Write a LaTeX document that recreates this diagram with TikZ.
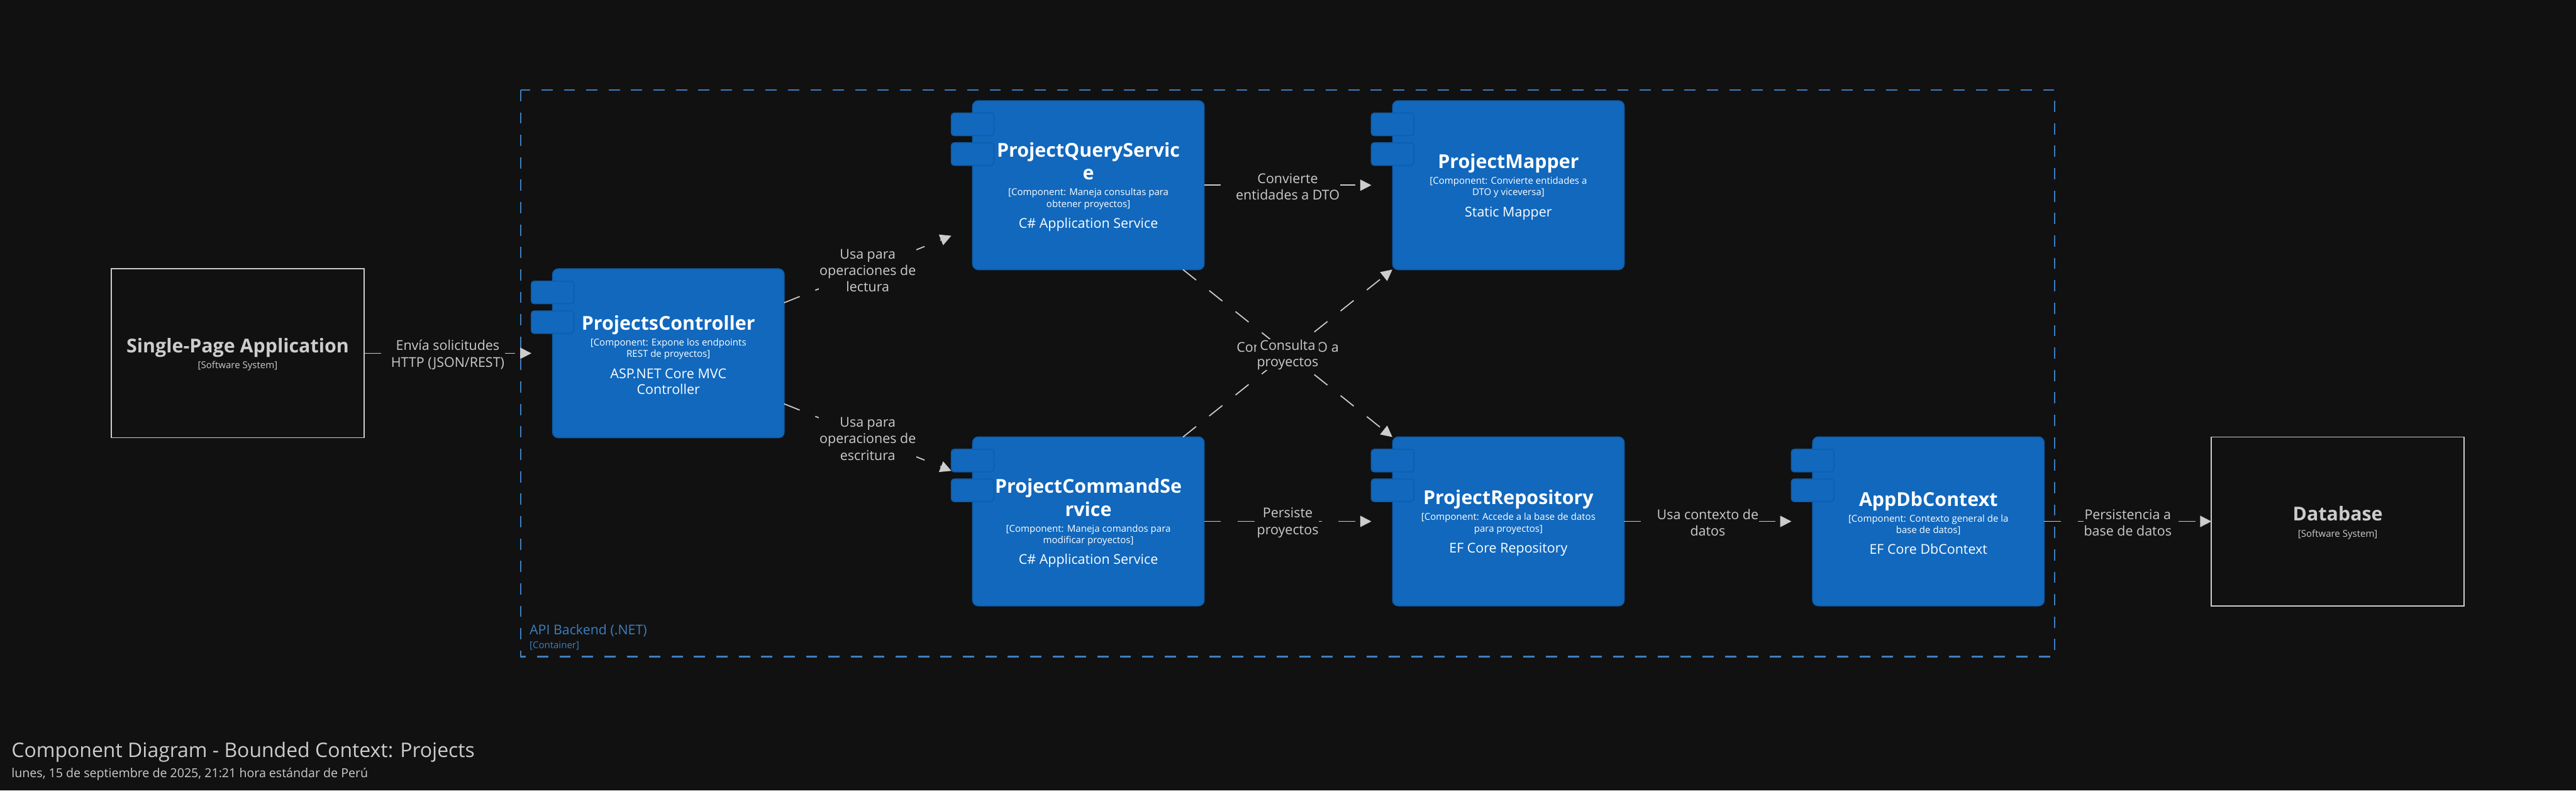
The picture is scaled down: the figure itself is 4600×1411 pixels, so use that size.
\documentclass[tikz,border=0pt]{standalone}
\usepackage{fontspec}
\setmainfont{Open Sans}
\usetikzlibrary{
  arrows.meta,              % Triangle arrow tips
  positioning               % tabs placed relative to the component
}
\definecolor{bgdark}{HTML}{111111}
\definecolor{compblue}{HTML}{1168BD}
\definecolor{compedge}{HTML}{0E5FAE}
\definecolor{lightgrey}{HTML}{CCCCCC}
\definecolor{boundblue}{HTML}{3C7FC0}

% 1 px of the drawing = 0.01cm = 0.2845pt
\def\namefont{\fontsize{9.7}{11.7}\selectfont\bfseries}
\def\descfont{\fontsize{4.8}{5.83}\selectfont}
\def\techfont{\fontsize{6.85}{8.1}\selectfont}
\newcommand{\comptext}[3]{\lineskiplimit=-20pt {\namefont #1\par}\vspace{0.075cm}{\descfont #2\par}\vspace{0.09cm}{\techfont #3\par}\vspace{-0.06cm}}
\newcommand{\systext}[2]{\lineskiplimit=-20pt {\namefont #1\par}\vspace{0.085cm}{\descfont #2\par}\vspace{-0.04cm}}

\begin{document}
\begin{tikzpicture}[x=0.01cm, y=-0.01cm, >={Triangle[length=0.2cm,width=0.2cm]},
    compbound/.style={minimum width=4.51cm, minimum height=3.01cm, inner sep=0pt, outer sep=0pt},
    compbody/.style={fill=compblue, draw=compedge, line width=0.02cm, rounded corners=0.1cm,
      minimum width=4.13cm, minimum height=3.01cm, text width=4.13cm, inner sep=0pt, outer sep=0pt,
      align=flush center, text=white},
    comptab/.style={fill=compblue, draw=compedge, line width=0.02cm, rounded corners=0.05cm,
      minimum width=0.76cm, minimum height=0.40cm, inner sep=0pt, outer sep=0pt},
    extsystem/.style={compbound, draw=lightgrey, line width=0.02cm, text=lightgrey,
      text width=4.51cm, align=flush center},
    rel/.style={->, draw=lightgrey, line width=0.02cm, dash pattern=on 0.3cm off 0.3cm},
    rellabel/.style={fill=bgdark, text=lightgrey, inner sep=0.01cm, align=center, yshift=-0.025cm,
      solid, font=\fontsize{6.85}{8.4}\selectfont},
  ]
    % --- background ---
    \fill[bgdark] (0,0) rectangle (4600,1411);

    % --- container boundary ---
    \draw[boundblue, line width=0.03cm, dash pattern=on 0.2cm off 0.2cm] (930,160.5) rectangle (3669,1172);
    \node[anchor=base west, text=boundblue, inner sep=0pt, font=\fontsize{6.83}{8}\selectfont] (apiname) at (945,1133) {API Backend (.NET)};
    \node[anchor=base west, text=boundblue, inner sep=0pt, font=\descfont] (apitype) at (945,1157) {[Container]};

    % --- external systems ---
    \node[extsystem] (spa) at (424.5,630.5) {\systext{Single-Page Application}{[Software System]}};
    \node[extsystem] (database) at (4174.5,930.5) {\systext{Database}{[Software System]}};

    % --- components: outer frame (with tabs), then body ---
    \node[compbound] (ctrl) at (1174.5,630.5) {};
    \node[compbound] (query) at (1924.5,330.5) {};
    \node[compbound] (cmd) at (1924.5,930.5) {};
    \node[compbound] (mapper) at (2674.5,330.5) {};
    \node[compbound] (repo) at (2674.5,930.5) {};
    \node[compbound] (dbctx) at (3424.5,930.5) {};

    \node[compbody, anchor=east] (ctrl-body) at (ctrl.east) {\comptext{ProjectsController}{[Component: Expone los endpoints\\REST de proyectos]}{ASP.NET Core MVC\\Controller}};
    \node[compbody, anchor=east] (query-body) at (query.east) {\comptext{ProjectQueryServic\\e}{[Component: Maneja consultas para\\obtener proyectos]}{C\# Application Service}};
    \node[compbody, anchor=east] (cmd-body) at (cmd.east) {\comptext{ProjectCommandSe\\rvice}{[Component: Maneja comandos para\\modificar proyectos]}{C\# Application Service}};
    \node[compbody, anchor=east] (mapper-body) at (mapper.east) {\comptext{ProjectMapper}{[Component: Convierte entidades a\\DTO y viceversa]}{Static Mapper}};
    \node[compbody, anchor=east] (repo-body) at (repo.east) {\comptext{ProjectRepository}{[Component: Accede a la base de datos\\para proyectos]}{EF Core Repository}};
    \node[compbody, anchor=east] (dbctx-body) at (dbctx.east) {\comptext{AppDbContext}{[Component: Contexto general de la\\base de datos]}{EF Core DbContext}};

    \foreach \c in {ctrl,query,cmd,mapper,repo,dbctx}{
      \node[comptab, below right=0.22cm and 0cm of \c.north west] (\c-taba) {};
      \node[comptab, below=0.13cm of \c-taba] (\c-tabb) {};
    }

    % --- relations ---
    \draw[rel] (spa) -- node[rellabel] {Envía solicitudes\\HTTP (JSON/REST)} (ctrl);
    \draw[rel] (ctrl) -- node[rellabel] {Usa para\\operaciones de\\lectura} (query);
    \draw[rel] (ctrl) -- node[rellabel] {Usa para\\operaciones de\\escritura} (cmd);
    \draw[rel] (query) -- node[rellabel] {Convierte\\entidades a DTO} (mapper);
    \draw[rel] (cmd) -- node[rellabel, yshift=0.135cm] {Convierte DTO a} (mapper);
    \draw[rel] (query) -- node[rellabel] {Consulta\\proyectos} (repo);
    \draw[rel] (cmd) -- node[rellabel] {Persiste\\proyectos} (repo);
    \draw[rel] (repo) -- node[rellabel] {Usa contexto de\\datos} (dbctx);
    \draw[rel] (dbctx) -- node[rellabel] {Persistencia a\\base de datos} (database);

    % --- title ---
    \node[anchor=base west, text=lightgrey, inner sep=0pt, font=\fontsize{10.2}{12}\selectfont] (title) at (20,1352) {Component Diagram - Bounded Context: Projects};
    \node[anchor=base west, text=lightgrey, inner sep=0pt, font=\fontsize{6.26}{8}\selectfont] (subtitle) at (20,1387) {lunes, 15 de septiembre de 2025, 21:21 hora estándar de Perú};
\end{tikzpicture}
\end{document}
